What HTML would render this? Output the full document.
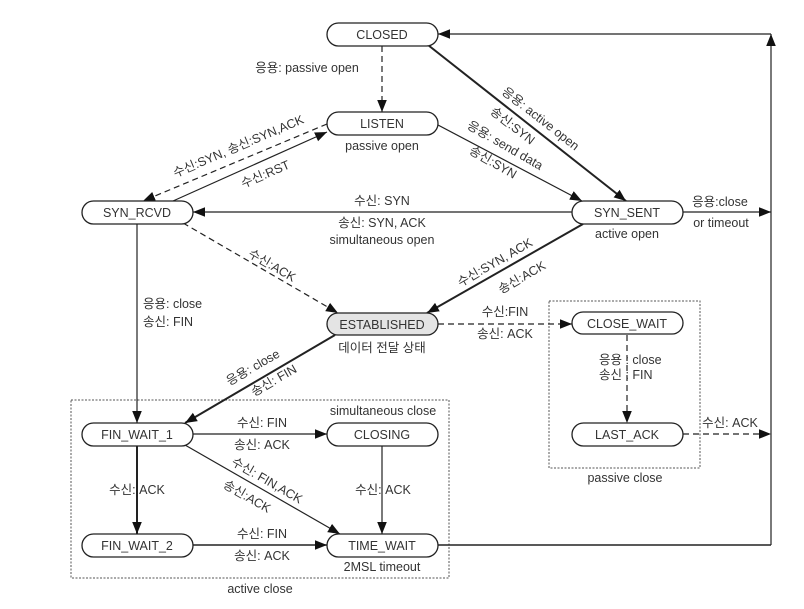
<!DOCTYPE html>
<html><head><meta charset="utf-8"><style>
html,body{margin:0;padding:0;background:#fff;}
svg{display:block;}
text{font-family:"Liberation Sans","Noto Sans CJK KR",sans-serif;font-size:12.5px;fill:#333;}
</style></head><body>
<svg width="804" height="609" viewBox="0 0 804 609" xmlns="http://www.w3.org/2000/svg">
<defs>
<marker id="a" viewBox="0 0 10 10" refX="10" refY="5" markerWidth="12" markerHeight="12" markerUnits="userSpaceOnUse" orient="auto"><path d="M0,1 L10,5 L0,9 z" fill="#111"/></marker>
</defs>
<rect x="71" y="400" width="378" height="178" fill="none" stroke="#555" stroke-dasharray="2,1.5"/>
<rect x="549" y="301" width="151" height="167" fill="none" stroke="#555" stroke-dasharray="2,1.5"/>

<g stroke="#222" fill="none" stroke-width="1.2">
<line x1="382" y1="46" x2="382" y2="112" stroke-dasharray="6,4" marker-end="url(#a)"/>
<line x1="428" y1="45" x2="626" y2="201" stroke-width="2" marker-end="url(#a)"/>
<line x1="438" y1="125" x2="582" y2="201" marker-end="url(#a)"/>
<line x1="327" y1="124" x2="143" y2="201" stroke-dasharray="6,4" marker-end="url(#a)"/>
<line x1="173" y1="201" x2="327" y2="132" marker-end="url(#a)"/>
<line x1="572" y1="212" x2="193" y2="212" marker-end="url(#a)"/>
<line x1="183" y1="223" x2="338" y2="313" stroke-dasharray="6,4" marker-end="url(#a)"/>
<line x1="583" y1="224" x2="427" y2="313" stroke-width="2" marker-end="url(#a)"/>
<line x1="137" y1="224" x2="137" y2="423" marker-end="url(#a)"/>
<line x1="335" y1="335" x2="185" y2="423" stroke-width="2" marker-end="url(#a)"/>
<line x1="438" y1="324" x2="572" y2="324" stroke-dasharray="6,4" marker-end="url(#a)"/>
<line x1="627" y1="335" x2="627" y2="423" stroke-dasharray="6,4" marker-end="url(#a)"/>
<line x1="683" y1="434" x2="771" y2="434" stroke-dasharray="6,4" marker-end="url(#a)"/>
<line x1="193" y1="434" x2="327" y2="434" marker-end="url(#a)"/>
<line x1="185" y1="445" x2="340" y2="534" marker-end="url(#a)"/>
<line x1="137" y1="446" x2="137" y2="534" stroke-width="2" marker-end="url(#a)"/>
<line x1="382" y1="446" x2="382" y2="534" marker-end="url(#a)"/>
<line x1="193" y1="545" x2="327" y2="545" stroke-width="1.5" marker-end="url(#a)"/>
<line x1="438" y1="545" x2="771" y2="545" stroke-width="1.5"/>
<line x1="771" y1="545" x2="771" y2="34" marker-end="url(#a)"/>
<line x1="771" y1="34" x2="438" y2="34" marker-end="url(#a)"/>
<line x1="683" y1="212" x2="771" y2="212" marker-end="url(#a)"/>
</g>

<g stroke="#222" stroke-width="1.3" fill="#fff">
<rect x="327" y="23" width="111" height="23" rx="11.5"/>
<rect x="327" y="112" width="111" height="23" rx="11.5"/>
<rect x="82" y="201" width="111" height="23" rx="11.5"/>
<rect x="572" y="201" width="111" height="23" rx="11.5"/>
<rect x="327" y="313" width="111" height="22" rx="11" fill="#e4e4e4"/>
<rect x="572" y="312" width="111" height="22" rx="11"/>
<rect x="572" y="423" width="111" height="23" rx="11.5"/>
<rect x="82" y="423" width="111" height="23" rx="11.5"/>
<rect x="327" y="423" width="111" height="23" rx="11.5"/>
<rect x="82" y="534" width="111" height="23" rx="11.5"/>
<rect x="327" y="534" width="111" height="23" rx="11.5"/>
</g>

<g text-anchor="middle">
<text x="382" y="39">CLOSED</text>
<text x="382" y="128">LISTEN</text>
<text x="137" y="217">SYN_RCVD</text>
<text x="627" y="217">SYN_SENT</text>
<text x="382" y="329">ESTABLISHED</text>
<text x="627" y="328">CLOSE_WAIT</text>
<text x="627" y="439">LAST_ACK</text>
<text x="137" y="439">FIN_WAIT_1</text>
<text x="382" y="439">CLOSING</text>
<text x="137" y="550">FIN_WAIT_2</text>
<text x="382" y="550">TIME_WAIT</text>

<text x="307" y="72">응용: passive open</text>
<text x="382" y="150">passive open</text>
<text transform="translate(240,150) rotate(-23)">수신:SYN, 송신:SYN,ACK</text>
<text transform="translate(267,178) rotate(-23)">수신:RST</text>
<text transform="translate(538,122) rotate(38)">응용: active open</text>
<text transform="translate(510,129) rotate(38)">송신:SYN</text>
<text transform="translate(503,149) rotate(30)">응용: send data</text>
<text transform="translate(491,166) rotate(30)">송신:SYN</text>
<text x="382" y="205">수신: SYN</text>
<text x="382" y="227">송신: SYN, ACK</text>
<text x="382" y="244">simultaneous open</text>
<text x="627" y="238">active open</text>
<text x="720" y="206">응용:close</text>
<text x="721" y="227">or timeout</text>
<text transform="translate(270,269) rotate(30)">수신:ACK</text>
<text transform="translate(497,266) rotate(-30)">수신:SYN, ACK</text>
<text transform="translate(524,281) rotate(-30)">송신:ACK</text>
<text x="382" y="352">데이터 전달 상태</text>
<text transform="translate(255,371) rotate(-30)">응용: close</text>
<text transform="translate(276,384) rotate(-30)">송신: FIN</text>
<text x="505" y="316">수신:FIN</text>
<text x="505" y="338">송신: ACK</text>
<text x="730" y="427">수신: ACK</text>
<text x="625" y="482">passive close</text>
<text x="383" y="415">simultaneous close</text>
<text x="262" y="427">수신: FIN</text>
<text x="262" y="449">송신: ACK</text>
<text transform="translate(265,484) rotate(30)">수신: FIN,ACK</text>
<text transform="translate(245,500) rotate(30)">송신:ACK</text>
<text x="137" y="494">수신: ACK</text>
<text x="383" y="494">수신: ACK</text>
<text x="262" y="538">수신: FIN</text>
<text x="262" y="560">송신: ACK</text>
<text x="382" y="571">2MSL timeout</text>
<text x="260" y="593">active close</text>
</g>
<g text-anchor="start">
<text x="143" y="308">응용: close</text>
<text x="143" y="326">송신: FIN</text>
<text x="599" y="364">응용 : close</text>
<text x="599" y="379">송신 : FIN</text>
</g>
</svg>
</body></html>
